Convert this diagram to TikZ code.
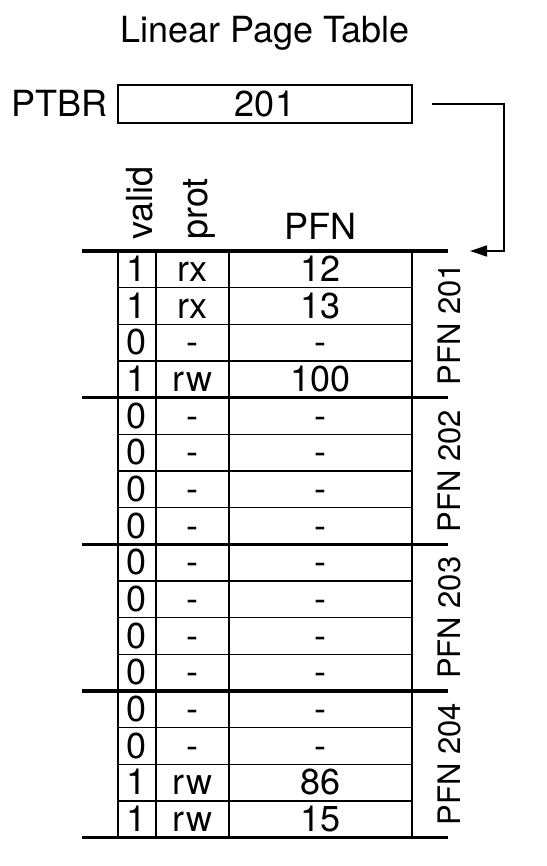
\documentclass[tikz,border=0pt]{standalone}
\usepackage{fontspec}
\setmainfont{TeX Gyre Heros}
\usetikzlibrary{arrows.meta}
\begin{document}
\begin{tikzpicture}[x=1pt,y=-1pt,
  big/.style={font=\fontsize{36}{40}\selectfont, inner sep=0pt},
  side/.style={font=\fontsize{31}{34}\selectfont, inner sep=0pt, rotate=90, anchor=base},
  thinline/.style={line width=1.3pt},
  thickline/.style={line width=3.2pt},
  cell/.style={big, anchor=base},
  regbox/.style={draw, line width=1.3pt, minimum width=294pt, minimum height=38pt, inner sep=0pt, font=\fontsize{36}{40}\selectfont},
  link/.style={line width=1.3pt, -{Triangle[length=17pt,width=11pt]}}]
\useasboundingbox (0,0) rectangle (546,866);
% title
\node[big, anchor=base] (title) at (265,43) {Linear Page Table};
% PTBR
\node[big, anchor=base east] (ptbrlabel) at (108,117) {PTBR};
\node[regbox] (ptbr) at (265,104) {201};
% arrow to table
\coordinate (entry) at (470,251);
\draw[link] ([xshift=19pt]ptbr.east) -| ([xshift=34pt]entry) -- (entry);
% headers
\node[big, rotate=90, anchor=base west] (hvalid) at (152,240) {valid};
\node[big, rotate=90, anchor=base west] (hprot) at (207,240) {prot};
\node[big, anchor=base] (hpfn) at (320,240) {PFN};
% thin row lines
\foreach \i in {1,2,3,5,6,7,9,10,11,13,14,15}{
  \draw[thinline] (118,251+\i*36.67) -- (412,251+\i*36.67);
}
% vertical lines
\foreach \x in {118,156,229,412}{
  \draw[thinline] (\x,251) -- (\x,837.7);
}
% thick group lines
\foreach \i in {0,4,8,12,16}{
  \draw[thickline] (82,251+\i*36.67) -- (448,251+\i*36.67);
}
% cells
\foreach [count=\i from 0] \v/\p/\f in {1/rx/12,1/rx/13,0/-/-,1/rw/100,0/-/-,0/-/-,0/-/-,0/-/-,0/-/-,0/-/-,0/-/-,0/-/-,0/-/-,0/-/-,1/rw/86,1/rw/15}{
  \pgfmathsetmacro\yb{251+\i*36.67+30.5}
  \node[cell] (v\i) at (137,\yb) {\v};
  \node[cell] (p\i) at (192.5,\yb) {\p};
  \node[cell] (f\i) at (320.5,\yb) {\f};
}
% side labels
\node[side] (pg201) at (460,324.3) {PFN 201};
\node[side] (pg202) at (460,471) {PFN 202};
\node[side] (pg203) at (460,617.7) {PFN 203};
\node[side] (pg204) at (460,764.3) {PFN 204};
\end{tikzpicture}
\end{document}
